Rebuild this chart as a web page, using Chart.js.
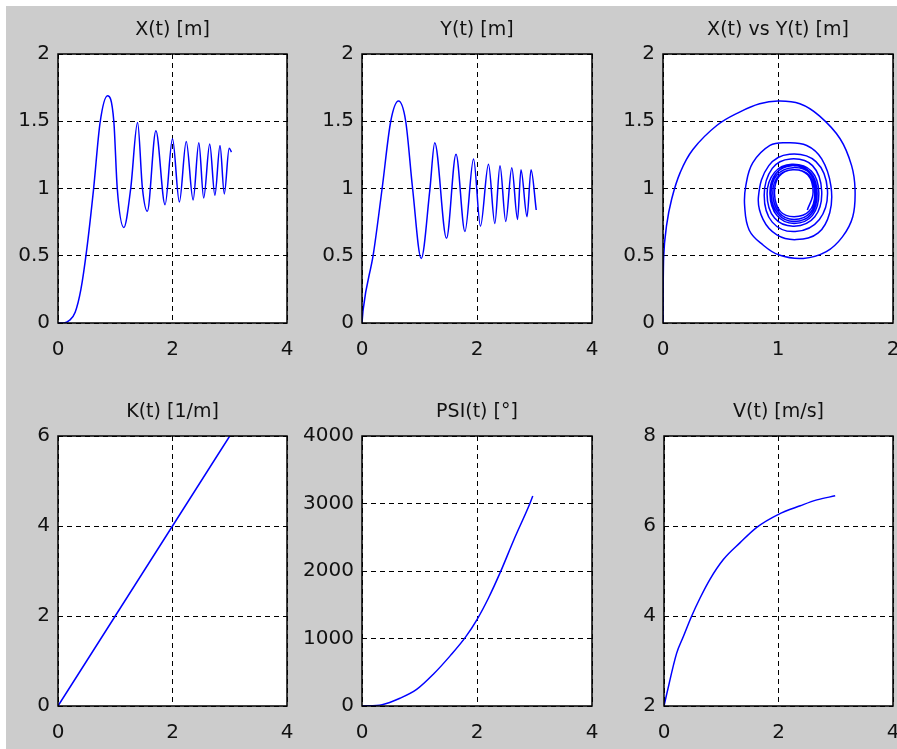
<!DOCTYPE html>
<html>
<head>
<meta charset="utf-8">
<script src="https://cdn.jsdelivr.net/npm/chart.js@4.4.1/dist/chart.umd.min.js"></script>
<style>
  html, body { margin: 0; padding: 0; background: #fff; overflow: hidden; width: 897px; height: 749px; }
  #fig { position: fixed; left: 6px; top: 6px; right: 0; bottom: 0; background: #cccccc; }
  canvas { position: absolute; }
</style>
</head>
<body>
<div id="fig"></div>
<canvas id="c-x"></canvas>
<canvas id="c-y"></canvas>
<canvas id="c-xy"></canvas>
<canvas id="c-k"></canvas>
<canvas id="c-psi"></canvas>
<canvas id="c-v"></canvas>
<script>
// Valeurs (t en s)
const tX = [0, 0.1, 0.2, 0.3, 0.4, 0.5, 0.62, 0.735, 0.865, 0.975, 1.035, 1.15, 1.27, 1.39, 1.475, 1.56,
  1.71, 1.87, 2.0, 2.12, 2.24, 2.36, 2.46, 2.545, 2.65, 2.74, 2.83, 2.905, 2.99, 3.03];
const xT = [0, 0, 0.02, 0.08, 0.25, 0.54, 0.99, 1.49, 1.69, 1.5, 1.0, 0.71, 1.0, 1.49, 1.0, 0.83,
  1.43, 0.88, 1.37, 0.9, 1.35, 0.915, 1.34, 0.93, 1.33, 0.95, 1.32, 0.96, 1.3, 1.27];

const tY = [0, 0.02, 0.2, 0.35, 0.5, 0.635, 0.76, 0.88, 1.03, 1.18, 1.265, 1.47, 1.635, 1.79, 1.94, 2.06,
  2.2, 2.31, 2.4, 2.5, 2.605, 2.705, 2.765, 2.87, 2.94, 3.03];
const yT = [0, 0.1, 0.52, 1.0, 1.5, 1.65, 1.5, 1.0, 0.48, 0.99, 1.34, 0.63, 1.255, 0.68, 1.22, 0.72,
  1.18, 0.74, 1.17, 0.755, 1.155, 0.77, 1.14, 0.79, 1.14, 0.84];

// Trajectoire X vs Y
const spiralX = [0, 0.005, 0.03, 0.075, 0.15, 0.26, 0.47, 0.67, 0.84, 1.0, 1.19, 1.36, 1.54, 1.64, 1.67, 1.65,
  1.56, 1.42, 1.22, 1.01, 0.87, 0.75, 0.71, 0.72, 0.78, 0.93, 1.07, 1.25, 1.38, 1.46, 1.45, 1.35, 1.16, 0.99,
  0.87, 0.83,
  0.92, 1.1, 1.33, 1.43, 1.36, 1.15, 0.95, 0.88,
  0.95, 1.11, 1.3, 1.38, 1.32, 1.14, 0.97, 0.905,
  0.97, 1.12, 1.29, 1.355, 1.3, 1.14, 0.99, 0.93,
  0.98, 1.12, 1.28, 1.34, 1.29, 1.14, 1.0, 0.94,
  0.99, 1.13, 1.28, 1.33, 1.28, 1.14, 1.01, 0.955,
  1.0, 1.13, 1.27, 1.32, 1.27, 1.14, 1.02, 0.97,
  1.01, 1.13, 1.26, 1.305, 1.255];
const spiralY = [0, 0.48, 0.72, 0.92, 1.12, 1.29, 1.47, 1.57, 1.63, 1.65, 1.63, 1.54, 1.37, 1.17, 0.99, 0.79,
  0.64, 0.53, 0.48, 0.505, 0.58, 0.69, 0.87, 1.02, 1.19, 1.32, 1.34, 1.32, 1.22, 1.02, 0.82, 0.67, 0.62, 0.655,
  0.77, 0.94,
  1.17, 1.255, 1.2, 0.99, 0.77, 0.68, 0.75, 0.95,
  1.15, 1.22, 1.17, 0.98, 0.79, 0.72, 0.78, 0.96,
  1.12, 1.18, 1.13, 0.97, 0.8, 0.74, 0.8, 0.96,
  1.11, 1.17, 1.12, 0.97, 0.81, 0.755, 0.81, 0.96,
  1.1, 1.155, 1.11, 0.96, 0.82, 0.77, 0.82, 0.96,
  1.09, 1.14, 1.1, 0.96, 0.83, 0.79, 0.83, 0.96,
  1.09, 1.14, 1.1, 0.97, 0.84];

const tK = [0, 0.5, 1, 1.5, 2, 2.5, 3];
const kT = [0, 1, 2, 3, 4, 5, 6];

const tPsi = [0, 0.35, 0.66, 0.95, 1.24, 1.54, 1.8, 2.0, 2.2, 2.41, 2.64, 2.92, 2.97];
const psiT = [0, 20, 114, 245, 470, 750, 1020, 1280, 1600, 1990, 2460, 3000, 3110];

const tV = [0, 0.05, 0.22, 0.34, 0.48, 0.63, 0.8, 1.04, 1.33, 1.62, 2.0, 2.38, 2.67, 2.99];
const vT = [2.0, 2.28, 3.17, 3.55, 3.99, 4.4, 4.81, 5.26, 5.63, 5.97, 6.26, 6.45, 6.58, 6.67];

// Graduations
const timeTicks = [0, 2, 4];
const posTicks = [0, 0.5, 1, 1.5, 2];
const xyTicks = [0, 1, 2];
const kTicks = [0, 2, 4, 6];
const psiTicks = [0, 1000, 2000, 3000, 4000];
const vTicks = [2, 4, 6, 8];

const pts = (xs, ys) => xs.map((x, i) => ({ x, y: ys[i] }));
const FONT = 'DejaVu Sans';

// Fond blanc de la zone de tracé + cadre noir (style MATLAB)
const axesBox = {
  id: 'axesBox',
  beforeDraw(chart) {
    const { ctx, chartArea: a } = chart;
    ctx.save();
    ctx.fillStyle = '#fff';
    ctx.fillRect(a.left, a.top, a.width, a.height);
    ctx.restore();
  },
  afterDraw(chart) {
    const { ctx, chartArea: a } = chart;
    ctx.save();
    ctx.setLineDash([]);
    ctx.strokeStyle = '#000';
    ctx.lineWidth = 1.5;
    ctx.strokeRect(a.left, a.top, a.width, a.height);
    ctx.restore();
  },
};

function axis(ticks, pad, extra) {
  return Object.assign({
    type: 'linear',
    min: ticks[0],
    max: ticks[ticks.length - 1],
    afterBuildTicks: s => { s.ticks = ticks.map(v => ({ value: v })); },
    grid: { color: '#000', lineWidth: 1, drawTicks: false },
    border: { display: false, dash: [5, 4] },
    ticks: { color: '#111', font: { family: FONT, size: 20 }, padding: pad, callback: v => String(v) },
  }, extra);
}

function panel(id, geo, title, data, xTicks, yTicks, smooth) {
  const cv = document.getElementById(id);
  // marge droite fixe, plus grande que celle réclamée par le dernier label x
  const padR = 30, titleH = 54, xH = 42;
  cv.width = geo.yw + geo.w + padR;
  cv.height = titleH + geo.h + xH;
  cv.style.left = (geo.left - geo.yw) + 'px';
  cv.style.top = (geo.top - titleH) + 'px';

  new Chart(cv, {
    type: 'line',
    data: {
      datasets: [{
        data,
        borderColor: '#0000ff',
        borderWidth: 1.5,
        pointRadius: 0,
        fill: false,
        cubicInterpolationMode: smooth === 'monotone' ? 'monotone' : 'default',
        tension: smooth === 'monotone' ? 0 : 0.4,
      }],
    },
    options: {
      responsive: false,
      animation: false,
      layout: { padding: { left: 0, top: 0, bottom: 0, right: padR } },
      plugins: {
        legend: { display: false },
        tooltip: { enabled: false },
        title: {
          display: true, text: title, fullSize: false, color: '#111',
          font: { family: FONT, size: 19, weight: 'normal', lineHeight: 1.2 },
          padding: { top: 19, bottom: 12.2 },
        },
      },
      scales: {
        x: axis(xTicks, 15, { afterFit: s => { s.height = xH; } }),
        y: axis(yTicks, 8, { afterFit: s => { s.width = geo.yw; } }),
      },
    },
    plugins: [axesBox],
  });
}

panel('c-x', { left: 58, top: 54, w: 229, h: 269, yw: 58 }, 'X(t) [m]', pts(tX, xT), timeTicks, posTicks, 'monotone');
panel('c-y', { left: 362, top: 54, w: 230, h: 269, yw: 70 }, 'Y(t) [m]', pts(tY, yT), timeTicks, posTicks, 'monotone');
panel('c-xy', { left: 663, top: 54, w: 230, h: 269, yw: 63 }, 'X(t) vs Y(t) [m]', pts(spiralX, spiralY), xyTicks, posTicks, 'bezier');
panel('c-k', { left: 58, top: 436, w: 229, h: 270, yw: 58 }, 'K(t) [1/m]', pts(tK, kT), timeTicks, kTicks, 'monotone');
panel('c-psi', { left: 362, top: 436, w: 230, h: 270, yw: 70 }, 'PSI(t) [°]', pts(tPsi, psiT), timeTicks, psiTicks, 'monotone');
panel('c-v', { left: 664, top: 436, w: 229, h: 270, yw: 64 }, 'V(t) [m/s]', pts(tV, vT), timeTicks, vTicks, 'monotone');
</script>
</body>
</html>
